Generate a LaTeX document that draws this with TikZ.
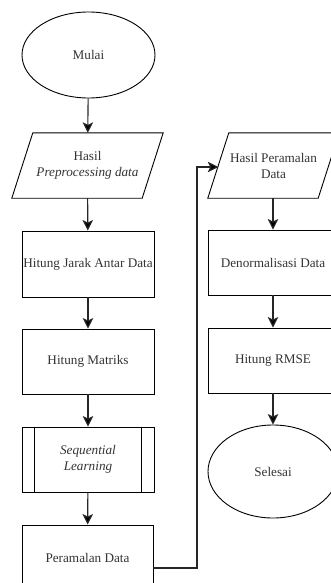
\documentclass[tikz,border=0pt]{standalone}
\usepackage{fontspec}
\setmainfont{Liberation Serif}
\usetikzlibrary{shapes.geometric,arrows.meta,calc}
\definecolor{txt}{HTML}{333333}
\tikzset{
  box/.style={draw=black, line width=0.9pt, rectangle, minimum width=132pt, minimum height=65pt, inner sep=0pt, align=center, text=txt, font=\fontsize{13.2}{16}\selectfont},
  term/.style={draw=black, line width=0.9pt, ellipse, inner sep=0pt, align=center, text=txt, font=\fontsize{13.2}{16}\selectfont},
  iobox/.style={rectangle, inner sep=0pt, align=center, text=txt, font=\fontsize{13.2}{16}\selectfont},
  ioline/.style={draw=black, line width=0.9pt},
  arr/.style={draw=black!85, line width=1.1pt, -{Stealth[length=10.5pt,width=10.5pt,inset=2.5pt,fill=black]}},
}
\begin{document}
\begin{tikzpicture}[x=1pt,y=-1pt]
\clip (0,0) rectangle (331,583);
% left column
\node[term, minimum width=133pt, minimum height=86pt] (mulai) at (88.5,55) {Mulai};
\node[iobox, minimum width=151pt, minimum height=65pt] (p1) at (87.5,165.5) {Hasil\\\textit{Preprocessing data}};
\draw[ioline] ([xshift=21pt]p1.north west) -- (p1.north east) -- ([xshift=-21pt]p1.south east) -- (p1.south west) -- cycle;
\node[box, minimum height=66pt] (r1) at (88,264) {Hitung Jarak Antar Data};
\node[box] (r2) at (88,361.5) {Hitung Matriks};
\node[box] (r3) at (88,459.5) {\textit{Sequential}\\\textit{Learning}};
\draw[ioline] ([xshift=13pt]r3.north west) -- ([xshift=13pt]r3.south west);
\draw[ioline] ([xshift=-13pt]r3.north east) -- ([xshift=-13pt]r3.south east);
\node[box, minimum width=131pt] (r4) at (87.5,557.5) {Peramalan Data};
% right column
\node[iobox, minimum width=131pt, minimum height=65pt] (p2) at (273.5,165.5) {Hasil Peramalan\\Data};
\draw[ioline] ([xshift=21pt]p2.north west) -- (p2.north east) -- ([xshift=-21pt]p2.south east) -- (p2.south west) -- cycle;
\node[box, minimum width=130pt] (r5) at (273,262.5) {Denormalisasi Data};
\node[box, minimum width=130pt] (r6) at (273,360.5) {Hitung RMSE};
\node[term, minimum width=130pt, minimum height=93pt] (selesai) at (273,471.5) {Selesai};
\coordinate (turn) at (197,167);
% connectors
\draw[arr] (mulai) -- (p1);
\draw[arr] (p1) -- (r1);
\draw[arr] (r1) -- (r2);
\draw[arr] (r2) -- (r3);
\draw[arr] (r3) -- (r4);
\draw[arr] ([yshift=-10.5pt]r4.east) -| (turn) -- ([xshift=10.5pt,yshift=-1.5pt]p2.west);
\draw[arr] (p2.south -| r5.north) -- (r5);
\draw[arr] (r5) -- (r6);
\draw[arr] (r6) -- (selesai);
\end{tikzpicture}
\end{document}
